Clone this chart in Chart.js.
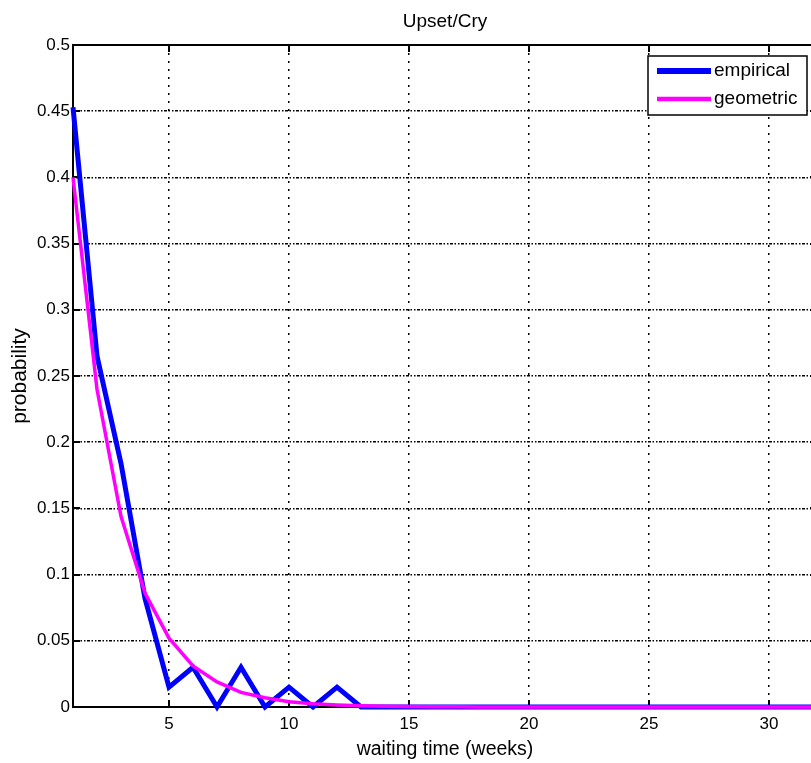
<!DOCTYPE html>
<html>
<head>
<meta charset="utf-8">
<script src="https://cdn.jsdelivr.net/npm/chart.js@4.4.1/dist/chart.umd.min.js"></script>
<style>
    html, body { margin: 0; padding: 0; background: #fff; overflow: hidden; }
    #wrap { width: 822px; height: 763px; }
</style>
</head>
<body>
<div id="wrap"><canvas id="waitChart" width="822" height="763"></canvas></div>
<script>
const weeks = [1, 2, 3, 4, 5, 6, 7, 8, 9, 10, 11, 12, 13, 14, 15, 16,
    17, 18, 19, 20, 21, 22, 23, 24, 25, 26, 27, 28, 29, 30, 31, 32];
const empirical = [0.453, 0.265, 0.184, 0.082, 0.015, 0.030, 0, 0.030, 0, 0.015, 0, 0.015, 0, 0, 0, 0,
    0, 0, 0, 0, 0, 0, 0, 0, 0, 0, 0, 0, 0, 0, 0, 0];
const geometric = [0.400, 0.240, 0.144, 0.086, 0.052, 0.031, 0.019, 0.011, 0.007, 0.004, 0.0024, 0.0015, 0.0009, 0.0005, 0.0003, 0.0002,
    0.0001, 0, 0, 0, 0, 0, 0, 0, 0, 0, 0, 0, 0, 0, 0, 0];
const xTicks = [5, 10, 15, 20, 25, 30];
const yTicks = [0, 0.05, 0.1, 0.15, 0.2, 0.25, 0.3, 0.35, 0.4, 0.45, 0.5];
const seriesNames = ['empirical', 'geometric'];
const seriesColors = ['#0000ff', '#ff00ff'];

const FONT = "'Liberation Sans', Arial, sans-serif";
Chart.defaults.color = '#000';
Chart.defaults.font.family = FONT;

function toPoints(values) {
    return weeks.map((w, i) => ({ x: w, y: values[i] }));
}

// matlab style box with inward ticks
const axesFrame = {
    id: 'axesFrame',
    beforeDatasetsDraw(chart) {
        const { ctx, chartArea: a, scales } = chart;
        ctx.save();
        ctx.strokeStyle = '#000';
        ctx.lineWidth = 2;
        ctx.strokeRect(a.left, a.top, a.right - a.left, a.bottom - a.top);
        ctx.beginPath();
        const len = 7;
        xTicks.forEach(v => {
            const px = Math.round(scales.x.getPixelForValue(v));
            ctx.moveTo(px, a.bottom); ctx.lineTo(px, a.bottom - len);
            ctx.moveTo(px, a.top); ctx.lineTo(px, a.top + len);
        });
        yTicks.forEach(v => {
            const py = Math.round(scales.y.getPixelForValue(v));
            ctx.moveTo(a.left, py); ctx.lineTo(a.left + len, py);
            ctx.moveTo(a.right, py); ctx.lineTo(a.right - len, py);
        });
        ctx.stroke();
        ctx.restore();
    }
};

const boxLegend = {
    id: 'boxLegend',
    afterDraw(chart) {
        const { ctx } = chart;
        const x = 648, y = 56, w = 159, h = 59;
        ctx.save();
        ctx.fillStyle = '#fff';
        ctx.fillRect(x, y, w, h);
        ctx.strokeStyle = '#000';
        ctx.lineWidth = 1.5;
        ctx.strokeRect(x, y, w, h);
        const widths = [6, 4.5];
        seriesNames.forEach((name, i) => {
            const ly = y + 15 + i * 28;
            ctx.beginPath();
            ctx.strokeStyle = seriesColors[i];
            ctx.lineWidth = widths[i];
            ctx.moveTo(x + 9, ly);
            ctx.lineTo(x + 63, ly);
            ctx.stroke();
            ctx.fillStyle = '#000';
            ctx.font = '19px ' + FONT;
            ctx.textAlign = 'left';
            ctx.textBaseline = 'middle';
            ctx.fillText(name, x + 66, ly);
        });
        ctx.restore();
    }
};

new Chart(document.getElementById('waitChart'), {
    type: 'line',
    data: {
        datasets: [
            {
                label: seriesNames[0],
                data: toPoints(empirical),
                borderColor: seriesColors[0],
                borderWidth: 5,
                pointRadius: 0,
                tension: 0,
                clip: false,
                order: 2
            },
            {
                label: seriesNames[1],
                data: toPoints(geometric),
                borderColor: seriesColors[1],
                borderWidth: 3.5,
                pointRadius: 0,
                tension: 0,
                clip: false,
                order: 1
            }
        ]
    },
    options: {
        responsive: false,
        animation: false,
        layout: { padding: { left: 0, right: 5, top: 0, bottom: 0 } },
        plugins: {
            legend: { display: false },
            tooltip: { enabled: false },
            title: {
                display: true,
                text: 'Upset/Cry',
                fullSize: false,
                color: '#000',
                font: { size: 19, weight: 'normal' },
                padding: { top: 10, bottom: 12.2 }
            }
        },
        scales: {
            x: {
                type: 'linear',
                min: 1,
                max: 32,
                afterBuildTicks: axis => { axis.ticks = xTicks.map(v => ({ value: v })); },
                afterFit: axis => { axis.height = 56; },
                grid: { color: '#000', lineWidth: 1.5, drawTicks: false },
                border: { display: false, dash: [2, 6] },
                ticks: { font: { size: 17 }, padding: 7, maxRotation: 0, autoSkip: false, color: '#000' },
                title: {
                    display: true,
                    text: 'waiting time (weeks)',
                    color: '#000',
                    font: { size: 19.5 },
                    padding: { top: 0, bottom: 2 }
                }
            },
            y: {
                min: 0,
                max: 0.5,
                afterBuildTicks: axis => { axis.ticks = yTicks.map(v => ({ value: v })); },
                afterFit: axis => { axis.width = 73; },
                grid: { color: '#000', lineWidth: 1.5, drawTicks: false },
                border: { display: false, dash: [1.5, 1.5, 3, 1.5, 1.5, 2] },
                ticks: { font: { size: 17 }, padding: 3, color: '#000', callback: v => String(v) },
                title: {
                    display: true,
                    text: 'probability',
                    color: '#000',
                    font: { size: 21 },
                    padding: { top: 8, bottom: 0 }
                }
            }
        }
    },
    plugins: [axesFrame, boxLegend]
});
</script>
</body>
</html>
